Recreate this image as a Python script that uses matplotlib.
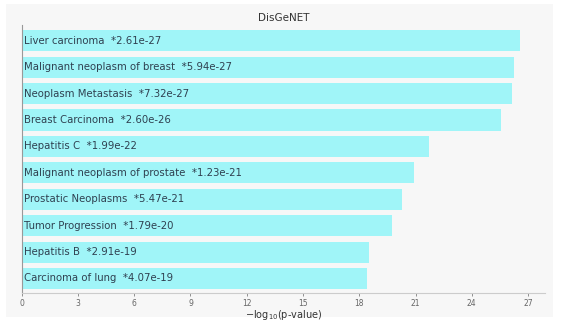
import numpy as np
import matplotlib
matplotlib.use('Agg')
from matplotlib import pyplot as plt
from matplotlib.patches import Rectangle

# terms and their p-values (top to bottom)
terms = ['Liver carcinoma', 'Malignant neoplasm of breast', 'Neoplasm Metastasis',
         'Breast Carcinoma', 'Hepatitis C', 'Malignant neoplasm of prostate',
         'Prostatic Neoplasms', 'Tumor Progression', 'Hepatitis B', 'Carcinoma of lung']
pvalues = [2.61e-27, 5.94e-27, 7.32e-27, 2.60e-26, 1.99e-22,
           1.23e-21, 5.47e-21, 1.79e-20, 2.91e-19, 4.07e-19]
xticks = [0, 3, 6, 9, 12, 15, 18, 21, 24, 27]

scores = -np.log10(pvalues)
ypos = np.arange(len(terms))[::-1]

fig = plt.figure(figsize=(5.62, 3.23), dpi=100, facecolor='white')
# light gray panel behind the plot
fig.patches.append(Rectangle((0.0107, 0.0186), 0.973, 0.969, transform=fig.transFigure,
                             facecolor='#f7f7f7', edgecolor='none', zorder=-1))
ax = fig.add_axes([0.0386, 0.0929, 0.9314, 0.8297])
ax.set_facecolor('#f7f7f7')

ax.barh(ypos, scores, height=0.8, color='#a0f5f8')
for y, t, p in zip(ypos, terms, pvalues):
    ax.text(0.12, y, f'{t}  *{p:.2e}', va='center', ha='left', fontsize=7.3, color='#2f4050')

ax.set_ylim(-0.55, 9.6)
ax.set_xticks(xticks)
ax.tick_params(axis='x', labelsize=5.5, colors='#666666', length=2, width=0.5, pad=2)
ax.set_yticks([])
ax.set_title('DisGeNET', fontsize=7.5, color='#333333', pad=3)
ax.set_xlabel('−log$_{10}$(p-value)', fontsize=7, color='#333333', labelpad=0)

for s in ['top', 'right']:
    ax.spines[s].set_visible(False)
ax.spines['left'].set_color('#999999')
ax.spines['bottom'].set_color('#cccccc')

plt.savefig('out.png', dpi=100)
